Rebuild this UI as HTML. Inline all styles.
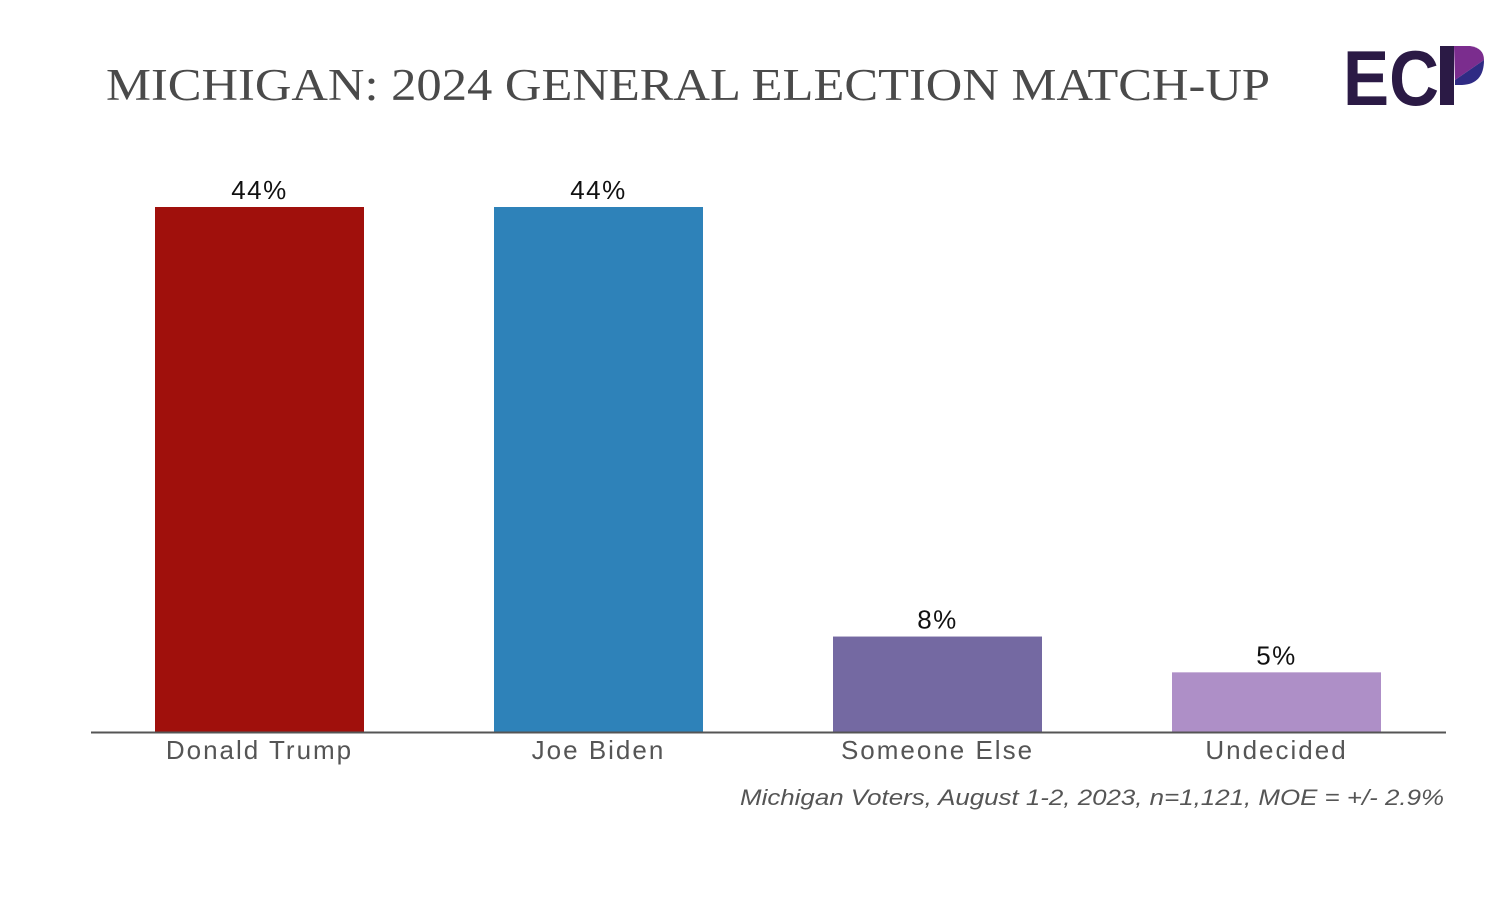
<!DOCTYPE html>
<html><head><meta charset="utf-8"><style>
html,body{margin:0;padding:0;background:#fff;width:1500px;height:902px;overflow:hidden}
svg{display:block}
</style></head><body>
<svg id="chart" width="1500" height="902" viewBox="0 0 1500 902">
<text x="106" y="100" font-family="Liberation Serif, serif" font-size="45" fill="#4a4a4a" textLength="1164" lengthAdjust="spacingAndGlyphs">MICHIGAN: 2024 GENERAL ELECTION MATCH-UP</text>
<g>
<text x="1343" y="105" font-family="Liberation Sans, sans-serif" font-weight="bold" font-size="78" fill="#2b1a45" textLength="96" lengthAdjust="spacingAndGlyphs">EC</text>
<rect x="1440" y="46" width="14" height="59" fill="#2b1a45"/>
<path d="M1454 46 L1470 46 Q1484 48 1484 60 L1455 80 Z" fill="#7b2d8e"/>
<path d="M1484 60 Q1484 84 1462 85 L1455 85 L1455 80 Z" fill="#2f2b84"/>
</g>
<g id="bars"></g>
<line x1="91" y1="732.5" x2="1446" y2="732.5" stroke="#555" stroke-width="2"/>
<text x="740" y="805" font-family="Liberation Sans, sans-serif" font-style="italic" font-size="22" fill="#555" textLength="704" lengthAdjust="spacingAndGlyphs">Michigan Voters, August 1-2, 2023, n=1,121, MOE = +/- 2.9%</text>
</svg>
<script>
const categories = ["Donald Trump","Joe Biden","Someone Else","Undecided"];
const values = [44,44,8,5];
const valueLabels = ["44%","44%","8%","5%"];
const colors = ["#a0100c","#2e82b9","#7469a2","#ae8fc7"];
const ns = "http://www.w3.org/2000/svg";
const g = document.getElementById('bars');
const baseY = 732, pxPer = 525/44;
const y = v => baseY - v*pxPer;
const xc = i => 259.5 + i*339;
const bw = 209;
categories.forEach((c,i)=>{
  const r = document.createElementNS(ns,'rect');
  r.setAttribute('x', xc(i)-bw/2);
  r.setAttribute('y', y(values[i]));
  r.setAttribute('width', bw);
  r.setAttribute('height', baseY - y(values[i]));
  r.setAttribute('fill', colors[i]);
  
  
  g.appendChild(r);
  const t = document.createElementNS(ns,'text');
  t.setAttribute('x', xc(i));
  t.setAttribute('y', y(values[i]) - 8);
  t.setAttribute('text-anchor','middle');
  t.setAttribute('font-family','Liberation Sans, sans-serif');
  t.setAttribute('font-size','26');
  t.setAttribute('letter-spacing','1.5');
  t.setAttribute('fill','#111');
  t.textContent = valueLabels[i];
  
  
  g.appendChild(t);
  const l = document.createElementNS(ns,'text');
  l.setAttribute('x', xc(i));
  l.setAttribute('y', 759);
  l.setAttribute('text-anchor','middle');
  l.setAttribute('font-family','Liberation Sans, sans-serif');
  l.setAttribute('font-size','26');
  l.setAttribute('letter-spacing','2');
  l.setAttribute('fill','#555');
  l.textContent = c;
  
  
  g.appendChild(l);
});
</script>
</body></html>
